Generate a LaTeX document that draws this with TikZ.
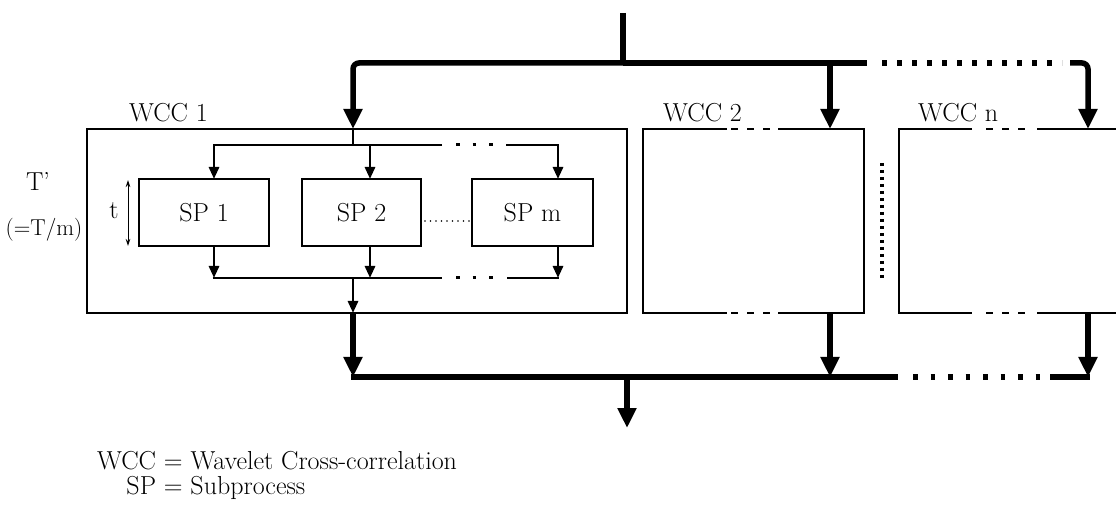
\documentclass[tikz,border=0pt]{standalone}
\usepackage{fontspec}
\usetikzlibrary{arrows.meta}
\begin{document}
\begin{tikzpicture}[x=1pt,y=-1pt,
  box/.style={draw, line width=1.2pt, inner sep=0pt, outer sep=0pt},
  area/.style={inner sep=0pt, outer sep=0pt},
  lbl/.style={font=\fontsize{26}{30}\selectfont, inner sep=0pt},
  small/.style={font=\fontsize{23}{27}\selectfont, inner sep=0pt},
  edgeline/.style={line width=1.2pt},
  edgedash/.style={line width=1.2pt, dash pattern=on 7pt off 9pt},
  bus/.style={line width=5.5pt},
  busdots/.style={line width=5.5pt, dash pattern=on 4.5pt off 10.5pt},
  lowdots/.style={line width=5.5pt, dash pattern=on 4.5pt off 13pt},
  fat/.style={line width=5.5pt, -{Triangle[length=20pt,width=18pt]}},
  slim/.style={line width=2.8pt, -{Triangle[length=12pt,width=10pt]}},
  thinbus/.style={line width=2.8pt},
  thindots/.style={line width=3pt, dash pattern=on 3.5pt off 13pt},
  sepdots/.style={line width=4pt, dash pattern=on 3pt off 4pt},
  spdots/.style={line width=1.6pt, line cap=round, dash pattern=on 0pt off 5.5pt},
  tarrow/.style={line width=1pt, {Stealth[length=7pt,width=4.5pt]}-{Stealth[length=7pt,width=4.5pt]}}
]
\useasboundingbox (0,0) rectangle (1116,518);

% WCC blocks
\node[box, minimum width=540pt, minimum height=184pt] (wcc1) at (357,221) {};
\node[area, minimum width=221pt, minimum height=184pt] (wcc2) at (753.5,221) {};
\node[area, minimum width=217pt, minimum height=184pt] (wccn) at (1007.5,221) {};

% WCC 2 outline with gaps
\draw[edgeline] (727,129) -- (wcc2.north west) -- (wcc2.south west) -- (727,313);
\draw[edgeline] (778,129) -- (wcc2.north east) -- (wcc2.south east) -- (778,313);
\draw[edgedash] (731,129) -- (771,129);
\draw[edgedash] (731,313) -- (771,313);
% WCC n outline with gaps
\draw[edgeline] (972,129) -- (wccn.north west) -- (wccn.south west) -- (972,313);
\draw[edgeline] (1037,129) -- (wccn.north east);
\draw[edgeline] (1037,313) -- (wccn.south east);
\draw[edgedash] (986,129) -- (1026,129);
\draw[edgedash] (986,313) -- (1026,313);

% labels of WCC blocks
\node[lbl, anchor=base west] (lw1) at (129,122) {WCC 1};
\node[lbl, anchor=base west] (lw2) at (663,122) {WCC 2};
\node[lbl, anchor=base west] (lwn) at (918,122) {WCC n};

% subprocesses
\node[box, lbl, minimum width=130pt, minimum height=67pt] (sp1) at (204,212.5) {SP 1};
\node[box, lbl, minimum width=119pt, minimum height=67pt] (sp2) at (361.5,212.5) {SP 2};
\node[box, lbl, minimum width=121pt, minimum height=67pt] (spm) at (532.5,212.5) {SP m};
\draw[spdots] (425,221) -- (470,221);

% side labels
\draw[tarrow] (128,180) -- (128,246);
\node[lbl] (tl) at (114,211) {t};
\node[lbl] (Tp) at (38,181) {T'};
\node[small] (Tm) at (44,230) {(=T/m)};

% coordinates
\coordinate (src) at (623,13);
\coordinate (tb) at (623,63);
\coordinate (w1in) at (353,129);
\coordinate (w2in) at (830,129);
\coordinate (wnin) at (1088,129);
\coordinate (w1out) at (353,313);
\coordinate (w2out) at (830,313);
\coordinate (wnout) at (1088,313);
\coordinate (bb) at (627,377);
\coordinate (out) at (627,428);

% top distribution
\draw[bus] (src) -- (tb);
\draw[fat, rounded corners=6pt] (tb) -- (353,63) -- (w1in);
\draw[bus] (tb) -- (867,63);
\draw[busdots] (882,63) -- (1062,63);
\draw[fat] (830,63) -- (w2in);
\draw[fat, rounded corners=6pt] (1070,63) -- (1088,63) -- (wnin);

% inner distribution (WCC 1)
\coordinate (ib) at (353,145);
\draw[thinbus] (w1in) -- (ib);
\draw[slim] (442,145) -- (214,145) -- (214,179);
\draw[slim] (370,145) -- (370,179);
\draw[slim] (506,145) -- (558,145) -- (558,179);
\draw[thindots] (456,145) -- (494,145);

% inner collection
\draw[slim] (214,246) -- (214,278);
\draw[slim] (370,246) -- (370,278);
\draw[slim] (558,246) -- (558,278);
\draw[thinbus] (212.6,278) -- (442,278);
\draw[thinbus] (507,278) -- (559.4,278);
\draw[thindots] (456,278) -- (494,278);
\draw[slim] (353,278) -- (w1out);

% separator dots between WCC 2 and WCC n
\draw[sepdots] (882,163) -- (882,278);

% bottom collection
\draw[fat] (w1out) -- (353,377);
\draw[fat] (w2out) -- (830,377);
\draw[fat] (wnout) -- (1088,377);
\draw[bus] (351,377) -- (898,377);
\draw[lowdots] (913,377) -- (1040,377);
\draw[bus] (1050,377) -- (1090,377);
\draw[fat] (bb) -- (out);

% legend
\node[anchor=north west, inner sep=0pt, font=\fontsize{26}{24}\selectfont] (legend) at (97,451)
  {\begin{tabular}{@{}r@{ = }l@{}}WCC & Wavelet Cross-correlation\\ SP & Subprocess\end{tabular}};
\end{tikzpicture}
\end{document}
